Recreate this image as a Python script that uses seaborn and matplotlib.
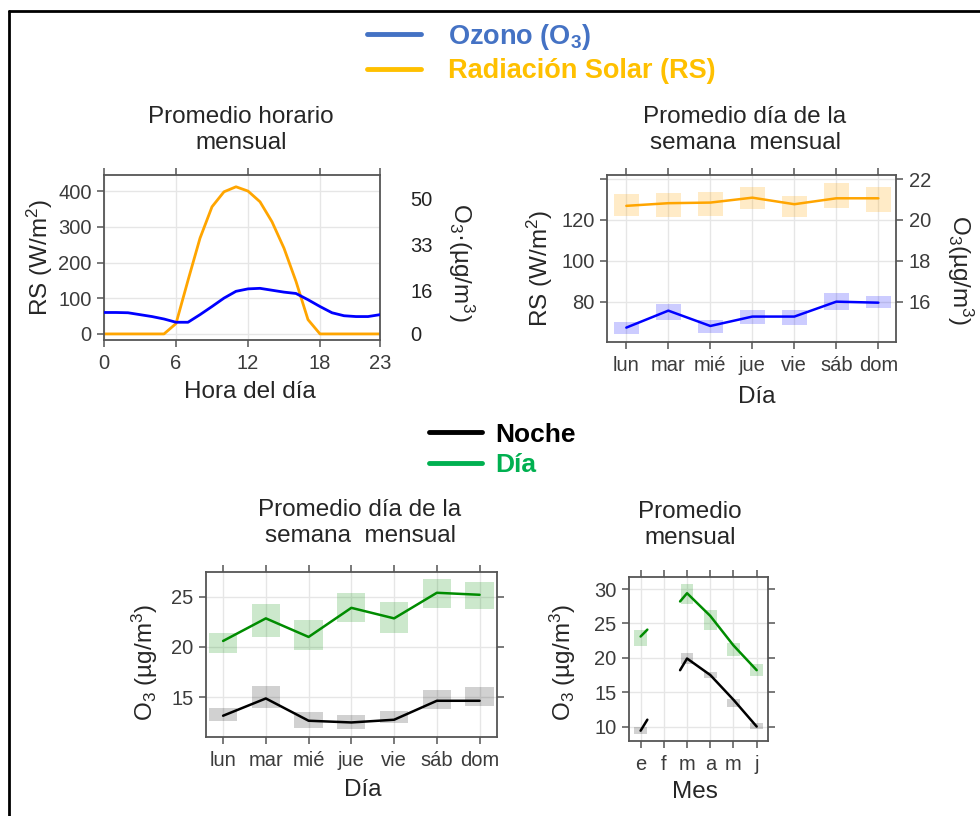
import matplotlib
matplotlib.use('Agg')
import matplotlib.pyplot as plt
import seaborn as sns
from matplotlib.lines import Line2D

sns.set_theme(style='white')
plt.rcParams['font.family'] = ['Liberation Sans', 'DejaVu Sans']
plt.rcParams['mathtext.fontset'] = 'custom'
plt.rcParams['mathtext.rm'] = 'Liberation Sans'
plt.rcParams['mathtext.it'] = 'Liberation Sans:italic'
plt.rcParams['mathtext.bf'] = 'Liberation Sans:bold'

# Promedio horario mensual
horas = list(range(24))
rs_hora = [0, 0, 0, 0, 0, 0, 29, 150, 268, 356, 398, 412, 400, 370, 314, 240, 147, 40, 0, 0, 0, 0, 0, 0]
o3_hora = [7.9, 7.9, 7.8, 7.1, 6.4, 5.5, 4.3, 4.3, 7.1, 10.1, 13.2, 15.7, 16.6, 16.8, 16.1, 15.4,
           14.9, 12.6, 10.1, 7.8, 6.7, 6.4, 6.4, 7.1]

# Promedio dia de la semana (RS y O3)
dias = ['lun', 'mar', 'mié', 'jue', 'vie', 'sáb', 'dom']
rs_dia = [126.9, 128.2, 128.5, 130.9, 127.7, 130.6, 130.6]
rs_dia_lo = [122.0, 121.6, 122.0, 125.4, 121.6, 125.7, 123.8]
rs_dia_hi = [132.6, 133.1, 133.6, 136.3, 131.8, 138.3, 136.3]
o3_dia = [14.73, 15.56, 14.81, 15.27, 15.27, 16.0, 15.95]
o3_dia_lo = [14.4, 15.1, 14.45, 14.9, 14.86, 15.6, 15.7]
o3_dia_hi = [15.0, 15.9, 15.1, 15.6, 15.6, 16.4, 16.3]

# O3 dia / noche por dia de la semana
dia_o3 = [20.6, 22.85, 21.0, 23.9, 22.85, 25.4, 25.2]
dia_lo = [19.4, 21.0, 19.7, 22.5, 21.4, 23.9, 23.8]
dia_hi = [21.4, 24.3, 22.7, 25.4, 24.5, 26.8, 26.5]
noche_o3 = [13.15, 14.87, 12.65, 12.48, 12.75, 14.64, 14.64]
noche_lo = [12.6, 13.9, 11.9, 11.8, 12.4, 13.8, 14.1]
noche_hi = [13.9, 16.1, 13.5, 13.25, 13.6, 15.7, 16.0]

# O3 dia / noche por mes (febrero sin datos)
meses = ['e', 'f', 'm', 'a', 'm', 'j']
mes_x = [0, 0.29, 1.7, 2, 3, 4, 5]
mes_tramo = [0, 0, 1, 1, 1, 1, 1]
dia_mes = [23.1, 24.1, 28.2, 29.4, 26.1, 21.8, 18.2]
noche_mes = [9.4, 11.0, 18.2, 19.9, 17.5, 13.9, 10.0]
mes_ic = [0, 2, 3, 4, 5]
dia_mes_lo = [21.7, 27.8, 24.0, 20.2, 17.3]
dia_mes_hi = [24.0, 30.8, 27.0, 22.2, 19.1]
noche_mes_lo = [8.9, 19.1, 17.0, 12.9, 9.6]
noche_mes_hi = [9.9, 20.65, 18.0, 14.0, 10.5]

NARANJA = '#FFA500'
AZUL = '#0000FF'
VERDE = '#008C00'
FS_LAB = 17.5
FS_TICK = 14.5

W, H = 980, 816
fig = plt.figure(figsize=(W / 100, H / 100), dpi=100)


def caja(x0, y0, x1, y1):
    return fig.add_axes([x0 / W, 1 - y1 / H, (x1 - x0) / W, (y1 - y0) / H])


def estilo(ax, grid=True):
    for s in ax.spines.values():
        s.set_color('#555555')
        s.set_linewidth(1.3)
    ax.tick_params(direction='out', length=5, width=1.1, color='#555555',
                   labelcolor='#3c3c3c', labelsize=FS_TICK, top=True, right=True,
                   bottom=True, left=True, labeltop=False, labelright=False)
    ax.tick_params(axis='y', pad=4)
    ax.tick_params(axis='x', pad=5)
    if grid:
        ax.grid(True, color='#e6e6e6', lw=1)
        ax.set_axisbelow(True)


def etiquetas(ax, xl, yl, xpos, ypos):
    ax.set_xlabel(xl, fontsize=FS_LAB)
    ax.set_ylabel(yl, fontsize=FS_LAB)
    ax.xaxis.set_label_coords(*xpos)
    ax.yaxis.set_label_coords(*ypos)
    ax.xaxis.label.set_va('center')
    ax.yaxis.label.set_va('center')


def titulo(texto, x, y):
    fig.text(x / W, 1 - y / H, texto, ha='center', va='center', fontsize=FS_LAB,
             linespacing=1.25)


rs_lab = r'RS (W/m$^2$)'

# ---- panel horario ----
ax_h = caja(104, 175, 380, 340)
estilo(ax_h)
sns.lineplot(x=horas, y=rs_hora, ax=ax_h, color=NARANJA, lw=2)
ax_h.set_xlim(0, 23)
ax_h.set_ylim(-17, 445)
ax_h.set_xticks([0, 6, 12, 18, 23])
ax_h.set_yticks([0, 100, 200, 300, 400])
ax_h2 = ax_h.twinx()
sns.lineplot(x=horas, y=o3_hora, ax=ax_h2, color=AZUL, lw=2)
ax_h2.set_ylim(-17 / 7.6, 445 / 7.6)
ax_h2.set_yticks([0, 16, 33, 50])
ax_h2.tick_params(axis='y', length=0, pad=22, labelsize=FS_TICK, labelcolor='#222222')
for s in ax_h2.spines.values():
    s.set_visible(False)
etiquetas(ax_h, 'Hora del día', rs_lab, (0.529, -0.315), (-0.232, 0.5))
ax_h2.set_ylabel(r'O$_3$·(µg/m$^3$)', fontsize=FS_LAB, rotation=270)
ax_h2.yaxis.set_label_coords(1.293, 0.47)
ax_h2.yaxis.label.set_va('center')
titulo('Promedio horario\nmensual', 241, 130)

# ---- panel dia de la semana RS / O3 ----
pos = list(range(len(dias)))
ax_d = caja(607, 175, 896, 341.7)
estilo(ax_d)
ax_d.bar(pos, [h - l for h, l in zip(rs_dia_hi, rs_dia_lo)], bottom=rs_dia_lo,
         width=0.6, color=NARANJA, alpha=0.22, lw=0)
sns.lineplot(x=pos, y=rs_dia, ax=ax_d, color=NARANJA, lw=1.8)
ax_d.set_xlim(-0.46, 6.42)
ax_d.set_ylim(60.4, 142)
ax_d.set_yticks([80, 100, 120, 140])
ax_d.set_yticklabels(['80', '100', '120', ''])
ax_d.set_xticks(pos)
ax_d.set_xticklabels(dias)
ax_d2 = ax_d.twinx()
ax_d2.bar(pos, [h - l for h, l in zip(o3_dia_hi, o3_dia_lo)], bottom=o3_dia_lo,
          width=0.6, color=AZUL, alpha=0.2, lw=0)
sns.lineplot(x=pos, y=o3_dia, ax=ax_d2, color=AZUL, lw=1.8)
ax_d2.set_ylim(14.04, 22.2)
ax_d2.set_yticks([16, 18, 20, 22])
ax_d2.tick_params(axis='y', direction='out', length=5, width=1.1, color='#555555',
                  labelcolor='#3c3c3c', labelsize=FS_TICK, pad=4)
for s in ax_d2.spines.values():
    s.set_visible(False)
etiquetas(ax_d, 'Día', rs_lab, (0.519, -0.332), (-0.232, 0.442))
ax_d2.set_ylabel(r'O$_3$(µg/m$^3$)', fontsize=FS_LAB, rotation=270)
ax_d2.yaxis.set_label_coords(1.222, 0.43)
ax_d2.yaxis.label.set_va('center')
titulo('Promedio día de la\nsemana  mensual', 745, 130)

# ---- panel dia/noche por dia de la semana ----
ax_w = caja(206, 571.7, 496.7, 737.3)
estilo(ax_w)
ax_w.bar(pos, [h - l for h, l in zip(dia_hi, dia_lo)], bottom=dia_lo,
         width=0.66, color=VERDE, alpha=0.2, lw=0)
ax_w.bar(pos, [h - l for h, l in zip(noche_hi, noche_lo)], bottom=noche_lo,
         width=0.66, color='black', alpha=0.18, lw=0)
sns.lineplot(x=pos, y=dia_o3, ax=ax_w, color=VERDE, lw=1.8)
sns.lineplot(x=pos, y=noche_o3, ax=ax_w, color='black', lw=1.8)
ax_w.set_xlim(-0.4, 6.4)
ax_w.set_ylim(11, 27.5)
ax_w.set_yticks([15, 20, 25])
ax_w.set_xticks(pos)
ax_w.set_xticklabels(dias)
etiquetas(ax_w, 'Día', r'O$_3$ (µg/m$^3$)', (0.54, -0.318), (-0.21, 0.452))
titulo('Promedio día de la\nsemana  mensual', 360, 523)

# ---- panel mensual ----
ax_m = caja(629, 576.7, 768.3, 741)
estilo(ax_m)
ax_m.bar(mes_ic, [h - l for h, l in zip(dia_mes_hi, dia_mes_lo)], bottom=dia_mes_lo,
         width=0.55, color=VERDE, alpha=0.2, lw=0)
ax_m.bar(mes_ic, [h - l for h, l in zip(noche_mes_hi, noche_mes_lo)], bottom=noche_mes_lo,
         width=0.55, color='black', alpha=0.18, lw=0)
sns.lineplot(x=mes_x, y=dia_mes, units=mes_tramo, estimator=None, ax=ax_m,
             color=VERDE, lw=1.8)
sns.lineplot(x=mes_x, y=noche_mes, units=mes_tramo, estimator=None, ax=ax_m,
             color='black', lw=1.8)
ax_m.set_xlim(-0.5, 5.5)
ax_m.set_ylim(7.9, 31.8)
ax_m.set_yticks([10, 15, 20, 25, 30])
ax_m.set_xticks(range(len(meses)))
ax_m.set_xticklabels(meses)
etiquetas(ax_m, 'Mes', r'O$_3$ (µg/m$^3$)', (0.474, -0.309), (-0.474, 0.48))
titulo('Promedio\nmensual', 690, 525)

# ---- leyendas ----
fig.legend(handles=[Line2D([], [], color='#4472C4', lw=3.5),
                    Line2D([], [], color='#FFC000', lw=3.5)],
           labels=[r'Ozono (O$_\mathbf{3}$)', 'Radiación Solar (RS)'],
           loc='center left', bbox_to_anchor=(353 / W, 1 - 53 / H),
           frameon=False, borderpad=0, handlelength=2.0, handletextpad=1.0,
           labelspacing=0.25, prop={'weight': 'bold', 'size': 19.5},
           labelcolor=['#4472C4', '#FFC000'])
fig.legend(handles=[Line2D([], [], color='black', lw=3.5),
                    Line2D([], [], color='#00B050', lw=3.5)],
           labels=['Noche', 'Día'],
           loc='center left', bbox_to_anchor=(416 / W, 1 - 450 / H),
           frameon=False, borderpad=0, handlelength=2.0, handletextpad=0.5,
           labelspacing=0.25, prop={'weight': 'bold', 'size': 19},
           labelcolor=['black', '#00B050'])

# marco
fig.add_artist(Line2D([9 / W, 9 / W], [0, 1 - 11 / H], color='black', lw=2,
                      transform=fig.transFigure))
fig.add_artist(Line2D([9 / W, 1], [1 - 11 / H, 1 - 11 / H], color='black', lw=2,
                      transform=fig.transFigure))

fig.savefig('out.png', dpi=100)
